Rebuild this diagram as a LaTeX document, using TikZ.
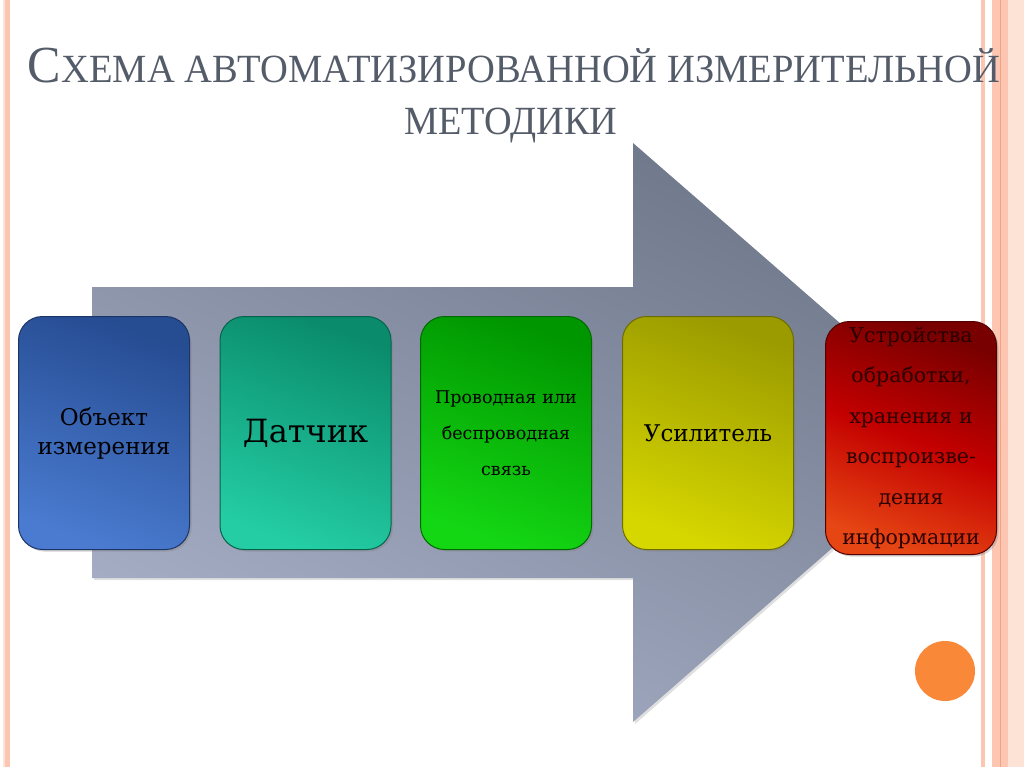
\documentclass[tikz,border=0pt]{standalone}
\usepackage{fontspec}
\usepackage{graphicx}
\setmainfont{DejaVu Serif}
\newfontfamily\titlefont{Liberation Serif}
\usetikzlibrary{positioning, shadows}

\definecolor{titlegray}{HTML}{555C69}
\definecolor{stripe}{HTML}{FCC6B2}
\definecolor{stripelight}{HTML}{FDE2D6}
\definecolor{stripeline}{HTML}{F3A27E}
\definecolor{arrowtop}{HTML}{6E7689}
\definecolor{arrowbot}{HTML}{A6AEC6}
\definecolor{dotorange}{HTML}{FA8839}
\definecolor{redtext}{HTML}{2B0000}
\definecolor{bluetop}{HTML}{264C92}
\definecolor{bluebot}{HTML}{4A7BD0}
\definecolor{teltop}{HTML}{0A8C6C}
\definecolor{telbot}{HTML}{24CDA4}
\definecolor{grntop}{HTML}{009600}
\definecolor{grnbot}{HTML}{14D714}
\definecolor{yeltop}{HTML}{9B9B00}
\definecolor{yelbot}{HTML}{D7D700}
\definecolor{redtop}{HTML}{780000}
\definecolor{redmid}{HTML}{C30000}
\definecolor{redbot}{HTML}{E64614}

\tikzset{
  block/.style={rounded corners=24pt, minimum width=171pt, minimum height=233pt,
    inner sep=0pt, text width=165pt, align=center, line width=1pt,
    drop shadow={opacity=0.35, shadow xshift=2pt, shadow yshift=-2pt}},
}

\begin{document}
\begin{tikzpicture}[x=1pt, y=-1pt]
  \useasboundingbox (0,0) rectangle (1024,767);
  \fill[white] (0,0) rectangle (1024,767);

  % border stripes
  \fill[stripelight] (3,0) rectangle (5,767);
  \fill[stripe] (5,0) rectangle (10,767);
  \fill[stripe] (981,0) rectangle (985,767);
  \fill[stripe] (992,0) rectangle (1024,767);
  \fill[stripelight] (1008,0) rectangle (1024,767);
  \fill[stripeline] (999.5,0) rectangle (1001,767);

  % title
  \node[text=titlegray, inner sep=0pt, anchor=base] (title) at (514,83)
    {\resizebox{972pt}{\height}{\titlefont\fontsize{52}{52}\selectfont С\fontsize{40}{40}\selectfont ХЕМА АВТОМАТИЗИРОВАННОЙ ИЗМЕРИТЕЛЬНОЙ}};
  \node[text=titlegray, inner sep=0pt, anchor=base] (subtitle) at (511,135)
    {\resizebox{213pt}{\height}{\titlefont\fontsize{40}{40}\selectfont МЕТОДИКИ}};

  % big arrow
  \shade[top color=arrowtop, bottom color=arrowbot, shading angle=-25,
    drop shadow={opacity=0.25, shadow xshift=2pt, shadow yshift=-2pt}]
    (92,287) -- (633,287) -- (633,143) -- (965,432) -- (633,722)
    -- (633,578) -- (92,578) -- cycle;

  % steps
  \node[block, draw=bluetop!70!black, top color=bluetop, bottom color=bluebot,
    shading angle=-20, font=\fontsize{23}{29}\selectfont] (object) at (104,433) {Объект\\измерения};
  \node[block, draw=teltop!70!black, top color=teltop, bottom color=telbot,
    shading angle=-20, font=\fontsize{32}{36}\selectfont, right=29.5pt of object] (sensor) {Датчик};
  \node[block, draw=grntop!70!black, top color=grntop, bottom color=grnbot,
    shading angle=-20, font=\fontsize{17.5}{36}\selectfont, right=28.5pt of sensor] (link) {Проводная или\\беспроводная\\связь};
  \node[block, draw=yeltop!70!black, top color=yeltop, bottom color=yelbot,
    shading angle=-20, font=\fontsize{23}{29}\selectfont, right=30pt of link] (amp) {Усилитель};
  \node[block, draw=redtop!70!black, top color=redtop, bottom color=redbot, middle color=redmid,
    shading angle=-20, text=redtext, font=\fontsize{20.5}{40.5}\selectfont,
    right=31pt of amp, yshift=-5pt] (store)
    {Устройства\\обработки,\\хранения и\\воспроизве-\\дения\\информации};

  % orange dot
  \node[circle, fill=dotorange, minimum size=60pt, inner sep=0pt] (dot) at (945,671) {};
\end{tikzpicture}
\end{document}
